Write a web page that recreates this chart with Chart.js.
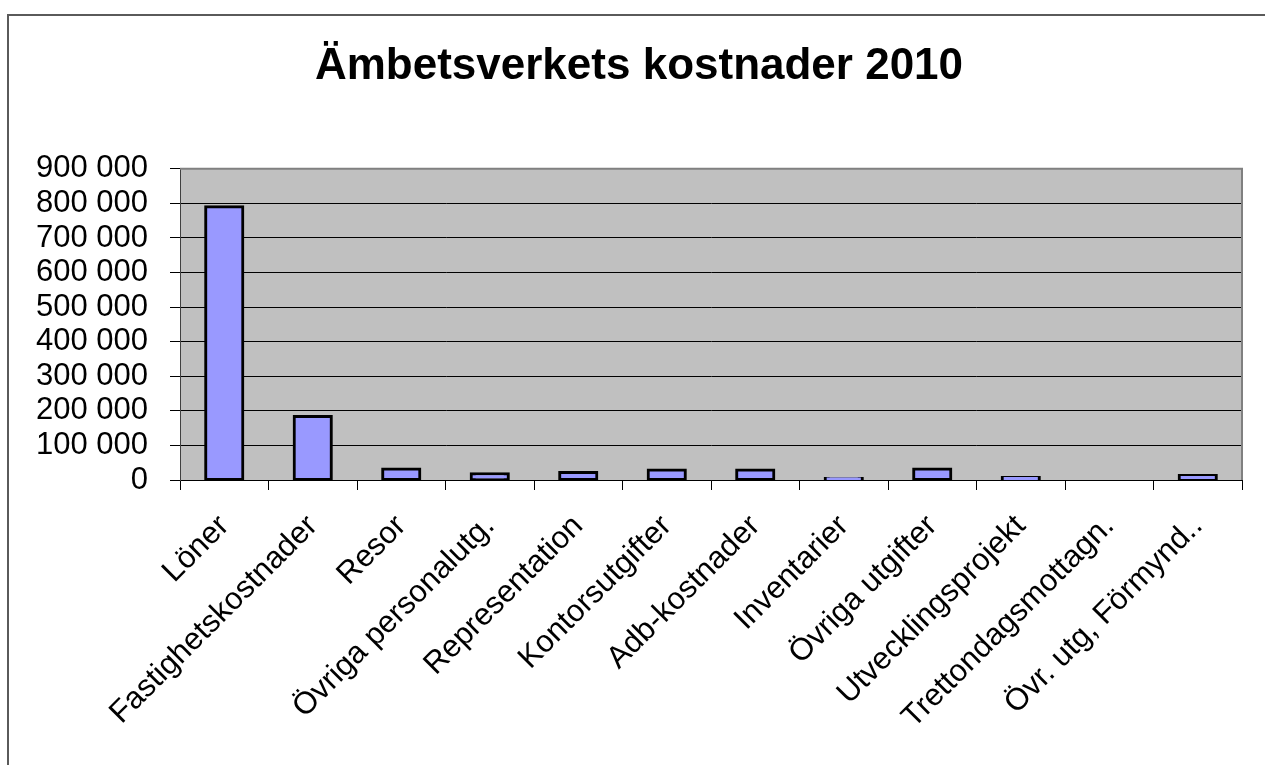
<!DOCTYPE html>
<html>
<head>
<meta charset="utf-8">
<script src="https://cdn.jsdelivr.net/npm/chart.js@4/dist/chart.umd.min.js"></script>
<style>
html,body{margin:0;padding:0;background:#fff;overflow:hidden;}
#wrap{position:relative;width:1265px;height:765px;}
#frame{position:absolute;left:7px;top:14px;width:1265px;height:765px;border:2px solid #5a5a5a;}
#c{position:absolute;left:0;top:0;}
</style>
</head>
<body>
<div id="wrap">
<div id="frame"></div>
<canvas id="c" width="1265" height="765"></canvas>
</div>
<script>
// kostnadsposter och belopp (kr)
const categories=['Löner','Fastighetskostnader','Resor','Övriga personalutg.','Representation','Kontorsutgifter','Adb-kostnader','Inventarier','Övriga utgifter','Utvecklingsprojekt','Trettondagsmottagn.','Övr. utg, Förmynd..'];
const costs=[790000,184000,32000,18000,22000,29000,29000,4500,32000,7500,0,13000];
const yTicks=[0,100000,200000,300000,400000,500000,600000,700000,800000,900000];

function fmt(v){return String(v).replace(/\B(?=(\d{3})+(?!\d))/g,' ');}

const plotBg={
  id:'plotBg',
  beforeDraw(chart){
    const a=chart.chartArea, ctx=chart.ctx;
    ctx.save(); ctx.fillStyle='#c0c0c0';
    ctx.fillRect(a.left,a.top,a.right-a.left,a.bottom-a.top); ctx.restore();
  },
  afterDatasetsDraw(chart){
    const a=chart.chartArea, ctx=chart.ctx;
    ctx.save(); ctx.strokeStyle='#808080'; ctx.lineWidth=2;
    ctx.beginPath(); ctx.moveTo(a.left,a.top); ctx.lineTo(a.right,a.top); ctx.lineTo(a.right,a.bottom); ctx.stroke();
    ctx.restore();
  }
};

const font='"Liberation Sans", Arial, sans-serif';
new Chart(document.getElementById('c'),{
  type:'bar',
  data:{labels:categories,datasets:[{data:costs,backgroundColor:'#9999ff',borderColor:'#000',borderWidth:3,borderSkipped:false,inflateAmount:1.5,barPercentage:0.42,categoryPercentage:1}]},
  options:{
    responsive:false,animation:false,
    layout:{padding:{left:36,right:23,top:0,bottom:0}},
    plugins:{
      legend:{display:false},tooltip:{enabled:false},
      title:{display:true,text:'Ämbetsverkets kostnader 2010',color:'#000',font:{family:font,size:44,weight:'bold'},padding:{top:40,bottom:76}}
    },
    scales:{
      x:{
        grid:{display:true,drawOnChartArea:false,offset:true,color:'#000',tickLength:10,lineWidth:1},
        border:{color:'#000',width:1},
        ticks:{autoSkip:false,maxRotation:45,minRotation:45,padding:18,color:'#000',font:{family:font,size:31}},
        afterFit(s){s.height=285;}
      },
      y:{
        min:0,max:900000,
        afterBuildTicks(s){s.ticks=yTicks.map(v=>({value:v}));},
        grid:{color:'#000',lineWidth:1,tickLength:10},
        border:{color:'#404040',width:1},
        ticks:{autoSkip:false,padding:22,color:'#000',font:{family:font,size:31},callback:v=>fmt(v)},
        afterFit(s){s.width=144;}
      }
    }
  },
  plugins:[plotBg]
});
</script>
</body>
</html>
